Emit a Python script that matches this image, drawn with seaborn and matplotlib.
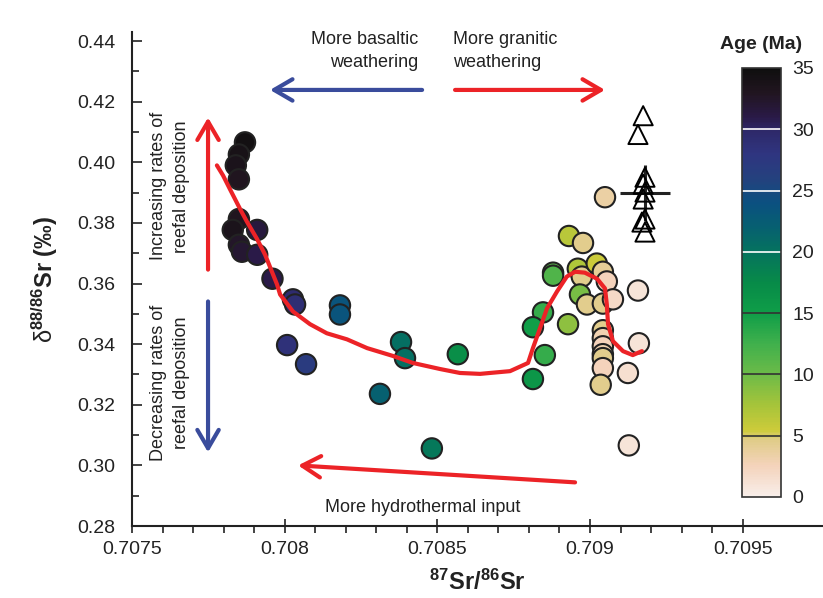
import numpy as np
import pandas as pd
import matplotlib
matplotlib.use('Agg')
import matplotlib.pyplot as plt
import seaborn as sns
from matplotlib.colors import LinearSegmentedColormap, Normalize
from matplotlib.ticker import FixedLocator

# Carbonate samples: 87Sr/86Sr, d88/86Sr and age (Ma)
sr_ratio = [0.70787, 0.70785, 0.70784, 0.70785, 0.70785, 0.70783, 0.70791, 0.70785,
            0.70786, 0.70791, 0.70796,
            0.708027, 0.708034, 0.708181, 0.708181, 0.708008, 0.70807, 0.708381,
            0.708394, 0.708567, 0.708312, 0.708482,
            0.709049, 0.708931, 0.708977, 0.708879, 0.708879, 0.70896, 0.708973,
            0.709022, 0.709042, 0.709055, 0.708967, 0.70899, 0.709042, 0.709075,
            0.709157, 0.708846, 0.708813, 0.708928, 0.709042, 0.709042, 0.709042,
            0.709042, 0.709042, 0.709042, 0.70916, 0.708852, 0.708813, 0.709124,
            0.709035, 0.709127]
d88sr = [0.4066, 0.4026, 0.3990, 0.3944, 0.3813, 0.3777, 0.3777, 0.3728,
         0.3705, 0.3695, 0.3616,
         0.3548, 0.3531, 0.3528, 0.3498, 0.3397, 0.3334, 0.3407,
         0.3354, 0.3367, 0.3236, 0.3056,
         0.3885, 0.3757, 0.3734, 0.3636, 0.3626, 0.3649, 0.3623,
         0.3666, 0.3639, 0.3607, 0.3564, 0.3531, 0.3534, 0.3548,
         0.3577, 0.3505, 0.3456, 0.3466, 0.3446, 0.3420, 0.3393,
         0.3367, 0.3354, 0.3321, 0.3403, 0.3364, 0.3285, 0.3305,
         0.3266, 0.3066]
age = [34.5, 34, 33.5, 33, 33, 33.5, 31.5, 32.5,
       32, 31, 31,
       29.5, 29, 23.5, 23.5, 28.5, 27, 20.5,
       20.5, 17, 22, 19.5,
       3.5, 6.5, 4.5, 11, 11.5, 7, 4.5,
       5.5, 4, 2.5, 9.5, 4.5, 4.5, 2,
       1, 13, 15, 8.5, 4.5, 3, 2.5,
       3, 4.5, 2.5, 1, 13, 16, 1.5,
       4.5, 1]

# Modern river / seawater samples (open triangles) and their mean
tri_sr = [0.709174, 0.709157, 0.70918, 0.709174, 0.70918, 0.709174, 0.70918, 0.70917, 0.70918]
tri_d88 = [0.4154, 0.4092, 0.3951, 0.3928, 0.3902, 0.3879, 0.3813, 0.3803, 0.3770]
mean_sr, mean_d88 = 0.70918, 0.3900
mean_sr_err, mean_d88_err = 0.000082, 0.0092

# Model curve
curve_sr = [0.707778, 0.707798, 0.707821, 0.707854, 0.707877, 0.707909, 0.707936, 0.707975,
            0.707985, 0.708027, 0.708083, 0.708138, 0.708204, 0.70827, 0.708355, 0.70842,
            0.708509, 0.708574, 0.70864, 0.708672, 0.708738, 0.708797, 0.708813, 0.708836,
            0.708859, 0.708892, 0.708924, 0.708951, 0.708983, 0.709023, 0.709049, 0.709055,
            0.709059, 0.709075, 0.709108, 0.70914, 0.70917]
curve_d88 = [0.3990, 0.3957, 0.3911, 0.3846, 0.3803, 0.3748, 0.3695, 0.3597,
             0.3564, 0.3508, 0.3466, 0.3436, 0.3416, 0.3387, 0.3361, 0.3338,
             0.3318, 0.3305, 0.3302, 0.3305, 0.3311, 0.3338, 0.3387, 0.3452,
             0.3518, 0.3574, 0.3623, 0.3639, 0.3636, 0.3616, 0.3584, 0.3531,
             0.3466, 0.3410, 0.3377, 0.3364, 0.3377]

cbar_ticks = [0, 5, 10, 15, 20, 25, 30, 35]

RED = '#ec2327'
BLUE = '#3a4c9c'


def age_cmap():
    stops = [(0, '#f8eeea'), (2.5, '#f4d3bb'), (4.6, '#e0cc88'), (5.4, '#cdcb3a'),
             (7.5, '#a5c43a'), (10, '#6cbb48'), (12.5, '#3fb04c'), (15, '#0f9e48'),
             (17.5, '#078a48'), (20, '#05735e'), (22, '#066070'), (24, '#0b5080'),
             (26, '#24417e'), (28, '#2f3580'), (30, '#2e2868'), (31, '#2a1a48'),
             (33, '#211520'), (35, '#0f0f0f')]
    return LinearSegmentedColormap.from_list('age', [(a / 35.0, c) for a, c in stops])


def main():
    sns.set_style('white')
    plt.rcParams['font.family'] = ['Liberation Sans', 'DejaVu Sans']
    plt.rcParams['mathtext.fontset'] = 'custom'
    plt.rcParams['mathtext.rm'] = 'Liberation Sans'
    plt.rcParams['mathtext.bf'] = 'Liberation Sans:bold'
    plt.rcParams['mathtext.it'] = 'Liberation Sans:italic'

    cmap = age_cmap()
    norm = Normalize(0, 35)

    fig = plt.figure(figsize=(8.23, 5.98), dpi=100)
    ax = fig.add_axes([0.1604, 0.1204, 0.8396, 0.826])

    df = pd.DataFrame({'sr': sr_ratio, 'd88': d88sr, 'age': age})
    sns.scatterplot(data=df, x='sr', y='d88', hue='age', palette=cmap, hue_norm=norm,
                    s=215, edgecolor='#222222', linewidth=1.5, legend=False, ax=ax, zorder=3)

    sns.lineplot(x=curve_sr, y=curve_d88, sort=False, color=RED, lw=3, ax=ax, zorder=4)

    ax.errorbar(mean_sr, mean_d88, xerr=mean_sr_err, yerr=mean_d88_err, fmt='none',
                ecolor='#222222', elinewidth=2.2, capsize=0, zorder=5)
    sns.scatterplot(x=tri_sr, y=tri_d88, marker='^', s=190, facecolor='none',
                    edgecolor='black', linewidth=1.4, ax=ax, zorder=6)

    # Arrows
    def arrow(tail, head, color):
        ax.annotate('', xy=head, xytext=tail,
                    arrowprops=dict(arrowstyle='->,head_length=0.6,head_width=0.35',
                                    color=color, lw=3, mutation_scale=22,
                                    shrinkA=0, shrinkB=0))

    arrow((0.70845, 0.4239), (0.707952, 0.4239), BLUE)
    arrow((0.708558, 0.4239), (0.709049, 0.4239), RED)
    arrow((0.707749, 0.3646), (0.707749, 0.4148), RED)
    arrow((0.707749, 0.3541), (0.707749, 0.3043), BLUE)
    arrow((0.708951, 0.2944), (0.708044, 0.3000), RED)

    tk = dict(fontsize=13, color='#222222', linespacing=1.45)
    ax.text(0.708436, 0.4367, 'More basaltic\nweathering', ha='right', va='center',
            multialignment='right', **tk)
    ax.text(0.708551, 0.4367, 'More granitic\nweathering', ha='left', va='center',
            multialignment='left', **tk)
    ax.text(0.707624, 0.3921, 'Increasing rates of\nreefal deposition', rotation=90,
            ha='center', va='center', multialignment='center', **tk)
    ax.text(0.707624, 0.3272, 'Decreasing rates of\nreefal deposition', rotation=90,
            ha='center', va='center', multialignment='center', **tk)
    ax.text(0.708453, 0.2862, 'More hydrothermal input', ha='center', va='center', **tk)

    # Axes
    ax.set_xlim(0.7075, 0.709763)
    ax.set_ylim(0.28, 0.443)
    ax.set_xticks([0.7075, 0.708, 0.7085, 0.709, 0.7095])
    ax.set_xticklabels(['0.7075', '0.708', '0.7085', '0.709', '0.7095'])
    ax.xaxis.set_minor_locator(FixedLocator(np.arange(0.7075, 0.70951, 0.0001)))
    ax.set_yticks(np.arange(0.28, 0.4401, 0.02))
    ax.set_yticklabels(['%.2f' % v for v in np.arange(0.28, 0.4401, 0.02)])
    ax.yaxis.set_minor_locator(FixedLocator(np.arange(0.29, 0.44, 0.02)))
    ax.tick_params(axis='both', which='both', labelsize=14, labelcolor='#222222',
                   width=1.2, color='#222222', bottom=True, left=True)
    ax.tick_params(axis='x', which='major', length=10, direction='inout', pad=6)
    ax.tick_params(axis='x', which='minor', length=5, direction='out')
    ax.tick_params(axis='y', which='major', length=7, direction='in', pad=12)
    ax.tick_params(axis='y', which='minor', length=5, direction='in')
    for side in ['top', 'right']:
        ax.spines[side].set_visible(False)
    for side in ['left', 'bottom']:
        ax.spines[side].set_color('#222222')
        ax.spines[side].set_linewidth(1.5)

    ax.set_xlabel(r'$^{\mathbf{87}}$Sr/$^{\mathbf{86}}$Sr', fontsize=17,
                  fontweight='bold', color='#222222', labelpad=8)
    ax.set_ylabel(r'$\mathrm{\delta}^{\mathbf{88/86}}$Sr (‰)', fontsize=17,
                  fontweight='bold', color='#222222', labelpad=12)

    # Colour bar
    cax = fig.add_axes([0.9016, 0.1689, 0.0474, 0.7174])
    sm = plt.cm.ScalarMappable(norm=norm, cmap=cmap)
    cb = fig.colorbar(sm, cax=cax, ticks=cbar_ticks)
    cb.outline.set_edgecolor('#333333')
    cb.outline.set_linewidth(1.2)
    cax.tick_params(length=0, labelsize=14, labelcolor='#222222', pad=8)
    for v in [5, 10, 15]:
        cax.axhline(v, color='#333333', lw=1.2)
    for v in [20, 25, 30]:
        cax.axhline(v, color='white', lw=1.2)
    cax.set_title('Age (Ma)', fontsize=14, fontweight='bold', color='#222222', pad=14)

    plt.savefig('out.png', dpi=100)


if __name__ == '__main__':
    main()
